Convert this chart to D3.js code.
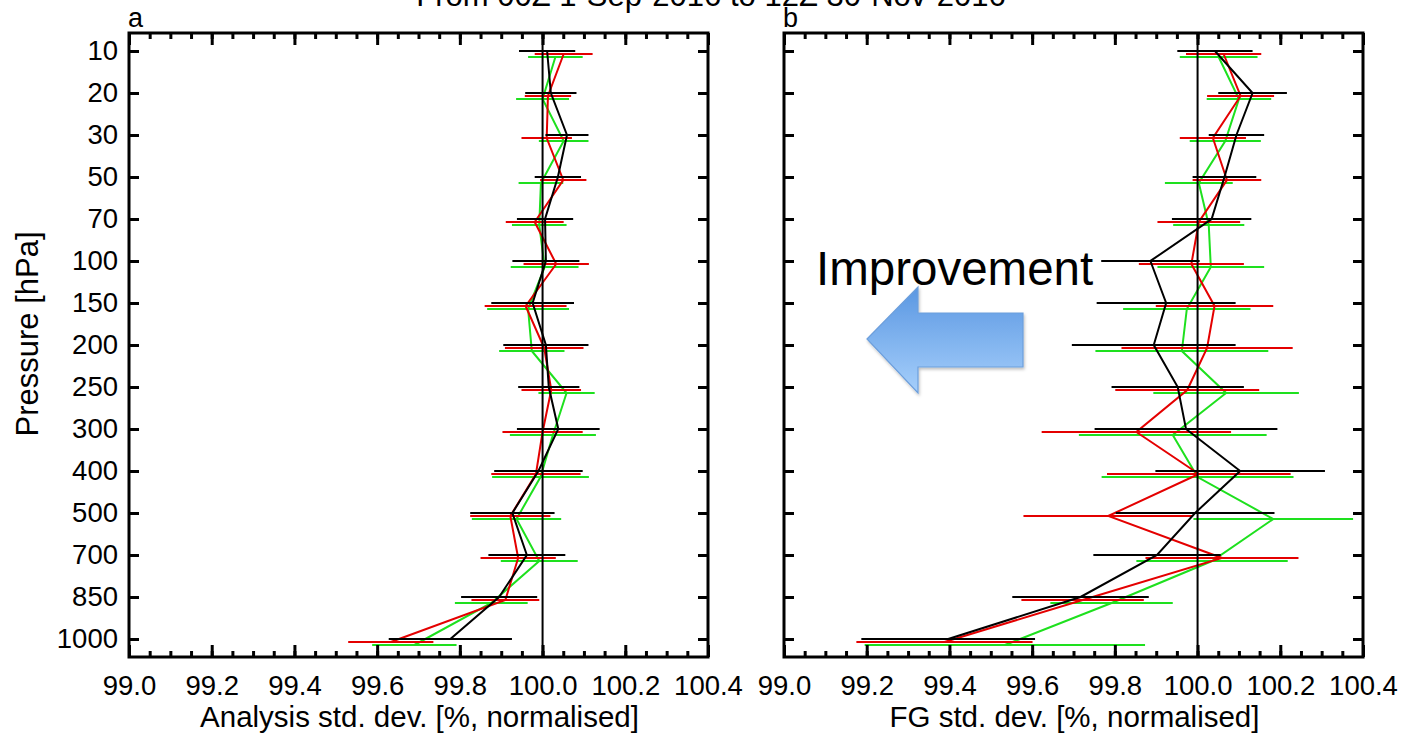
<!DOCTYPE html>
<html>
<head>
<meta charset="utf-8">
<script src="https://cdn.jsdelivr.net/npm/d3@7"></script>
<style>
  body { margin: 0; background: #fff; }
  svg { display: block; }
  text { font-family: "Liberation Sans", Arial, Helvetica, sans-serif; fill: #000; }
</style>
</head>
<body>
<svg id="chart" width="1405" height="733"></svg>
<script>
// Pressure levels (hPa), top to bottom
const levels = [10, 20, 30, 50, 70, 100, 150, 200, 250, 300, 400, 500, 700, 850, 1000];
const xMajorTicks = [99.0, 99.2, 99.4, 99.6, 99.8, 100.0, 100.2, 100.4];
const titleText = "From 00Z  1-Sep-2016 to 12Z 30-Nov-2016";

// Panel a: analysis std. dev., normalised (%), with half-width of the confidence bar
const anaBlack    = [100.011, 100.020, 100.059, 100.037, 100.006, 100.008, 99.976, 100.008, 100.015, 100.038, 99.990, 99.927, 99.962, 99.895, 99.777];
const anaBlackErr = [0.068, 0.062, 0.052, 0.056, 0.068, 0.081, 0.100, 0.103, 0.074, 0.100, 0.107, 0.102, 0.093, 0.092, 0.149];
const anaRed      = [100.051, 100.013, 100.010, 100.050, 99.981, 100.033, 99.959, 100.004, 100.021, 100.000, 99.984, 99.922, 99.941, 99.910, 99.633];
const anaRedErr   = [0.070, 0.056, 0.061, 0.056, 0.070, 0.079, 0.099, 0.095, 0.072, 0.097, 0.108, 0.097, 0.091, 0.082, 0.103];
const anaGreen    = [100.031, 100.000, 100.051, 99.996, 99.992, 100.005, 99.965, 99.974, 100.058, 100.025, 99.995, 99.937, 99.992, 99.876, 99.690];
const anaGreenErr = [0.066, 0.064, 0.060, 0.054, 0.066, 0.082, 0.099, 0.079, 0.068, 0.104, 0.117, 0.108, 0.093, 0.088, 0.102];

// Panel b: first-guess std. dev., normalised (%)
const fgBlack     = [100.042, 100.133, 100.094, 100.065, 100.034, 99.886, 99.924, 99.894, 99.952, 99.972, 100.103, 99.994, 99.902, 99.717, 99.397];
const fgBlackErr  = [0.091, 0.083, 0.067, 0.077, 0.096, 0.119, 0.168, 0.198, 0.160, 0.221, 0.205, 0.192, 0.154, 0.165, 0.210];
const fgRed       = [100.063, 100.104, 100.037, 100.071, 100.003, 99.985, 100.041, 100.023, 99.975, 99.852, 100.003, 99.784, 100.059, 99.722, 99.388];
const fgRedErr    = [0.091, 0.081, 0.080, 0.083, 0.100, 0.127, 0.142, 0.207, 0.174, 0.229, 0.222, 0.205, 0.185, 0.148, 0.213];
const fgGreen     = [100.051, 100.100, 100.067, 100.003, 100.027, 100.032, 99.974, 99.962, 100.069, 99.940, 100.000, 100.183, 100.035, 99.792, 99.534];
const fgGreenErr  = [0.094, 0.078, 0.086, 0.082, 0.086, 0.129, 0.154, 0.209, 0.176, 0.227, 0.232, 0.193, 0.183, 0.148, 0.339];

const colors = { black: "#000000", red: "#e40000", green: "#1ee01e" };

const svg = d3.select("#chart");
const frameTop = 33, frameBottom = 657;
const y = d3.scalePoint().domain(levels).range([51, 639]);

const panels = [
  { letter: "a", x0: 129, x1: 708, xlabel: "Analysis std. dev. [%, normalised]", yLabels: true,
    series: [
      { c: colors.green, v: anaGreen, e: anaGreenErr, dy: 6 },
      { c: colors.red,   v: anaRed,   e: anaRedErr,   dy: 3 },
      { c: colors.black, v: anaBlack, e: anaBlackErr, dy: 0 }
    ] },
  { letter: "b", x0: 784, x1: 1363, xlabel: "FG std. dev. [%, normalised]", yLabels: false,
    series: [
      { c: colors.green, v: fgGreen, e: fgGreenErr, dy: 6 },
      { c: colors.red,   v: fgRed,   e: fgRedErr,   dy: 3 },
      { c: colors.black, v: fgBlack, e: fgBlackErr, dy: 0 }
    ] }
];

const minorTicks = d3.range(99.0, 100.4001, 0.05).map(d => +d.toFixed(2));

panels.forEach(p => {
  const x = d3.scaleLinear().domain([99.0, 100.4]).range([p.x0, p.x1]);
  const g = svg.append("g");

  // error bars and profile lines
  p.series.forEach(s => {
    const pts = levels.map((lev, i) => ({ lev, v: s.v[i], e: s.e[i] }));
    g.append("g").selectAll("line").data(pts).join("line")
      .attr("x1", d => x(d.v - d.e)).attr("x2", d => x(d.v + d.e))
      .attr("y1", d => y(d.lev) + s.dy).attr("y2", d => y(d.lev) + s.dy)
      .attr("stroke", s.c).attr("stroke-width", 2);
    g.append("path").datum(pts)
      .attr("d", d3.line().x(d => x(d.v)).y(d => y(d.lev) + s.dy))
      .attr("fill", "none").attr("stroke", s.c).attr("stroke-width", 2);
  });

  // reference line at 100 %
  g.append("line").attr("x1", x(100)).attr("x2", x(100))
    .attr("y1", frameTop).attr("y2", frameBottom).attr("stroke", "#000").attr("stroke-width", 2);

  // axes with inward ticks
  const fontTick = 27.5;
  const bAx = g.append("g").attr("transform", `translate(0,${frameBottom})`)
    .call(d3.axisBottom(x).tickValues(xMajorTicks).tickSize(-12).tickPadding(18).tickFormat(d3.format(".1f")));
  bAx.selectAll("text").attr("font-size", fontTick).attr("fill", "#000");
  g.append("g").attr("transform", `translate(0,${frameBottom})`)
    .call(d3.axisBottom(x).tickValues(minorTicks).tickSize(-6).tickFormat(""));
  g.append("g").attr("transform", `translate(0,${frameTop})`)
    .call(d3.axisTop(x).tickValues(xMajorTicks).tickSize(-12).tickFormat(""));
  g.append("g").attr("transform", `translate(0,${frameTop})`)
    .call(d3.axisTop(x).tickValues(minorTicks).tickSize(-6).tickFormat(""));
  const lAx = g.append("g").attr("transform", `translate(${p.x0},0)`)
    .call(d3.axisLeft(y).tickSize(-10).tickPadding(11).tickFormat(p.yLabels ? d => d : ""));
  lAx.selectAll("text").attr("font-size", fontTick).attr("fill", "#000");
  g.append("g").attr("transform", `translate(${p.x1},0)`)
    .call(d3.axisRight(y).tickSize(-10).tickFormat(""));
  g.selectAll(".domain").remove();
  g.selectAll(".tick line").attr("stroke", "#000").attr("stroke-width", 3);

  // frame
  g.append("rect").attr("x", p.x0).attr("y", frameTop)
    .attr("width", p.x1 - p.x0).attr("height", frameBottom - frameTop)
    .attr("fill", "none").attr("stroke", "#000").attr("stroke-width", 3);

  g.append("text").attr("x", p.x0 - 1).attr("y", 27).attr("font-size", 27).text(p.letter);
  g.append("text").attr("x", (p.x0 + p.x1) / 2 + 1).attr("y", 727)
    .attr("text-anchor", "middle").attr("font-size", 29.5).text(p.xlabel);
});

svg.append("text").attr("transform", "translate(38,334) rotate(-90)")
  .attr("text-anchor", "middle").attr("font-size", 31).text("Pressure [hPa]");

// run title across the top, partly clipped by the page edge
svg.append("text").attr("x", 711).attr("y", 6).attr("text-anchor", "middle")
  .attr("font-size", 31).text(titleText);

// "Improvement" arrow pointing towards smaller std. dev.
const defs = svg.append("defs");
const grad = defs.append("linearGradient").attr("id", "arrowFill")
  .attr("x1", 0).attr("y1", 0).attr("x2", 0).attr("y2", 1);
grad.append("stop").attr("offset", "0%").attr("stop-color", "#5a97e2");
grad.append("stop").attr("offset", "100%").attr("stop-color", "#a6cffb");
const shadow = defs.append("filter").attr("id", "arrowShadow")
  .attr("x", "-10%").attr("y", "-10%").attr("width", "130%").attr("height", "130%");
shadow.append("feDropShadow").attr("dx", 1).attr("dy", 2).attr("stdDeviation", 1.5)
  .attr("flood-color", "#000").attr("flood-opacity", 0.25);

const arrowPts = [[867, 339], [918, 287], [918, 313], [1023, 313], [1023, 367], [918, 367], [918, 393]];
svg.append("path")
  .attr("d", d3.line()(arrowPts) + "Z")
  .attr("fill", "url(#arrowFill)").attr("stroke", "#6d9fdc").attr("stroke-width", 1.2)
  .attr("filter", "url(#arrowShadow)");

svg.append("text").attr("x", 816).attr("y", 285).attr("font-size", 47.5).text("Improvement");
</script>
</body>
</html>
